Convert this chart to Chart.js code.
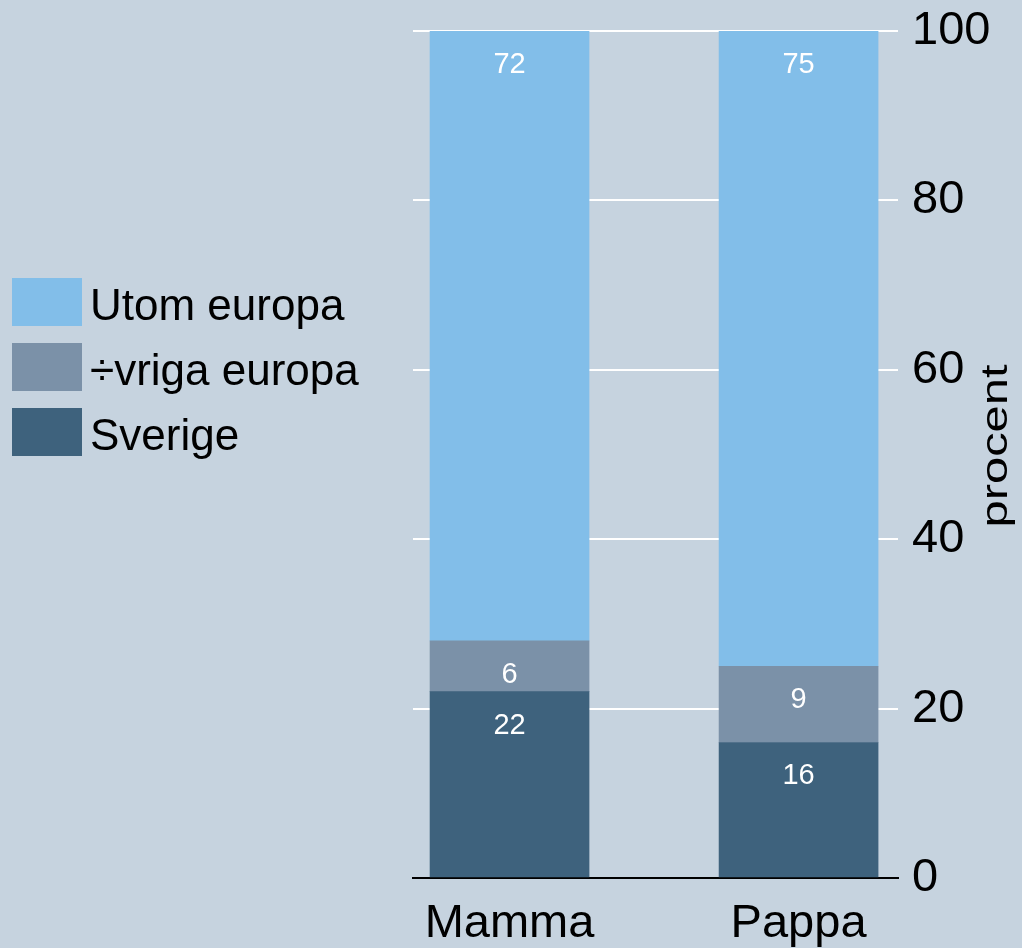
<!DOCTYPE html>
<html>
<head>
<meta charset="utf-8">
<style>
  html, body { margin: 0; padding: 0; background: #c6d3df; }
  #wrap { width: 1022px; height: 948px; }
</style>
<script src="https://cdn.jsdelivr.net/npm/chart.js@4.4.0/dist/chart.umd.min.js"></script>
</head>
<body>
<div id="wrap"><canvas id="chart" width="1022" height="948"></canvas></div>
<script>
// data
const categories = ['Mamma', 'Pappa'];
const sverige = [22, 16];
const ovrigaEuropa = [6, 9];
const utomEuropa = [72, 75];
const yTicks = [0, 20, 40, 60, 80, 100];
const legendLabels = ['Utom europa', '÷vriga europa', 'Sverige'];
const axisTitle = 'procent';

const colors = {
    sverige: '#3e627d',
    ovriga: '#7b91a8',
    utom: '#82bee9',
    bg: '#c6d3df'
};

function toPoints(values) {
    return values.map((v, i) => ({ x: i, y: v }));
}

// white value labels near the top of each segment
const barLabels = {
    id: 'barLabels',
    afterDatasetsDraw(chart) {
        const ctx = chart.ctx;
        ctx.save();
        ctx.fillStyle = '#ffffff';
        ctx.font = '29px "Liberation Sans", Arial, sans-serif';
        ctx.textAlign = 'center';
        ctx.textBaseline = 'middle';
        chart.data.datasets.forEach((ds, di) => {
            const meta = chart.getDatasetMeta(di);
            meta.data.forEach((bar, i) => {
                ctx.fillText(String(ds.data[i].y), bar.x, bar.y + 34);
            });
        });
        ctx.restore();
    }
};

// legend on the left side + rotated axis title
const sideTexts = {
    id: 'sideTexts',
    beforeDraw(chart) {
        const ctx = chart.ctx;
        ctx.save();
        ctx.fillStyle = colors.bg;
        ctx.fillRect(0, 0, chart.width, chart.height);
        ctx.restore();
    },
    afterDraw(chart) {
        const ctx = chart.ctx;
        const boxColors = [colors.utom, colors.ovriga, colors.sverige];
        ctx.save();
        ctx.font = '44px "Liberation Sans", Arial, sans-serif';
        ctx.textBaseline = 'alphabetic';
        ctx.textAlign = 'left';
        legendLabels.forEach((label, i) => {
            const top = 278 + i * 65;
            ctx.fillStyle = boxColors[i];
            ctx.fillRect(12, top, 70, 48);
            ctx.fillStyle = '#000000';
            ctx.fillText(label, 90, top + 42);
        });

        // title reads bottom to top
        ctx.translate(997, 446);
        ctx.rotate(-Math.PI / 2);
        ctx.font = '36px "Liberation Sans", Arial, sans-serif';
        const w = ctx.measureText(axisTitle).width;
        ctx.scale(163 / w, 1);
        ctx.textAlign = 'center';
        ctx.textBaseline = 'middle';
        ctx.fillStyle = '#000000';
        ctx.fillText(axisTitle, 0, 0);
        ctx.restore();
    }
};

const ctx = document.getElementById('chart').getContext('2d');
new Chart(ctx, {
    type: 'bar',
    data: {
        datasets: [
            { label: 'Sverige', data: toPoints(sverige), backgroundColor: colors.sverige },
            { label: '÷vriga europa', data: toPoints(ovrigaEuropa), backgroundColor: colors.ovriga },
            { label: 'Utom europa', data: toPoints(utomEuropa), backgroundColor: colors.utom }
        ]
    },
    options: {
        responsive: false,
        animation: false,
        events: [],
        barThickness: 159,
        layout: {
            padding: { left: 413, top: 31, right: 0, bottom: 0 }
        },
        plugins: {
            legend: { display: false },
            tooltip: { enabled: false }
        },
        scales: {
            x: {
                type: 'linear',
                stacked: true,
                offset: false,
                min: -0.334,
                max: 1.344,
                grid: { display: false },
                border: { display: true, color: '#000000', width: 2 },
                afterBuildTicks(scale) {
                    scale.ticks = categories.map((c, i) => ({ value: i }));
                },
                afterFit(scale) {
                    scale.height = 70;
                    scale.paddingLeft = 0;
                    scale.paddingRight = 0;
                },
                ticks: {
                    padding: 10,
                    color: '#000000',
                    font: { size: 47, family: '"Liberation Sans", Arial, sans-serif' },
                    maxRotation: 0,
                    callback: (value) => categories[value] ?? ''
                }
            },
            y: {
                position: 'right',
                stacked: true,
                min: 0,
                max: 100,
                afterBuildTicks(scale) {
                    scale.ticks = yTicks.map(v => ({ value: v }));
                },
                afterFit(scale) {
                    scale.width = 124;
                    scale.paddingTop = 0;
                    scale.paddingBottom = 0;
                },
                grid: {
                    color: (c) => c.tick && c.tick.value === 0 ? 'rgba(0,0,0,0)' : '#ffffff',
                    lineWidth: 2,
                    drawTicks: false
                },
                border: { display: false },
                ticks: {
                    padding: 14,
                    color: '#000000',
                    font: { size: 47, family: '"Liberation Sans", Arial, sans-serif' }
                }
            }
        }
    },
    plugins: [barLabels, sideTexts]
});
</script>
</body>
</html>
